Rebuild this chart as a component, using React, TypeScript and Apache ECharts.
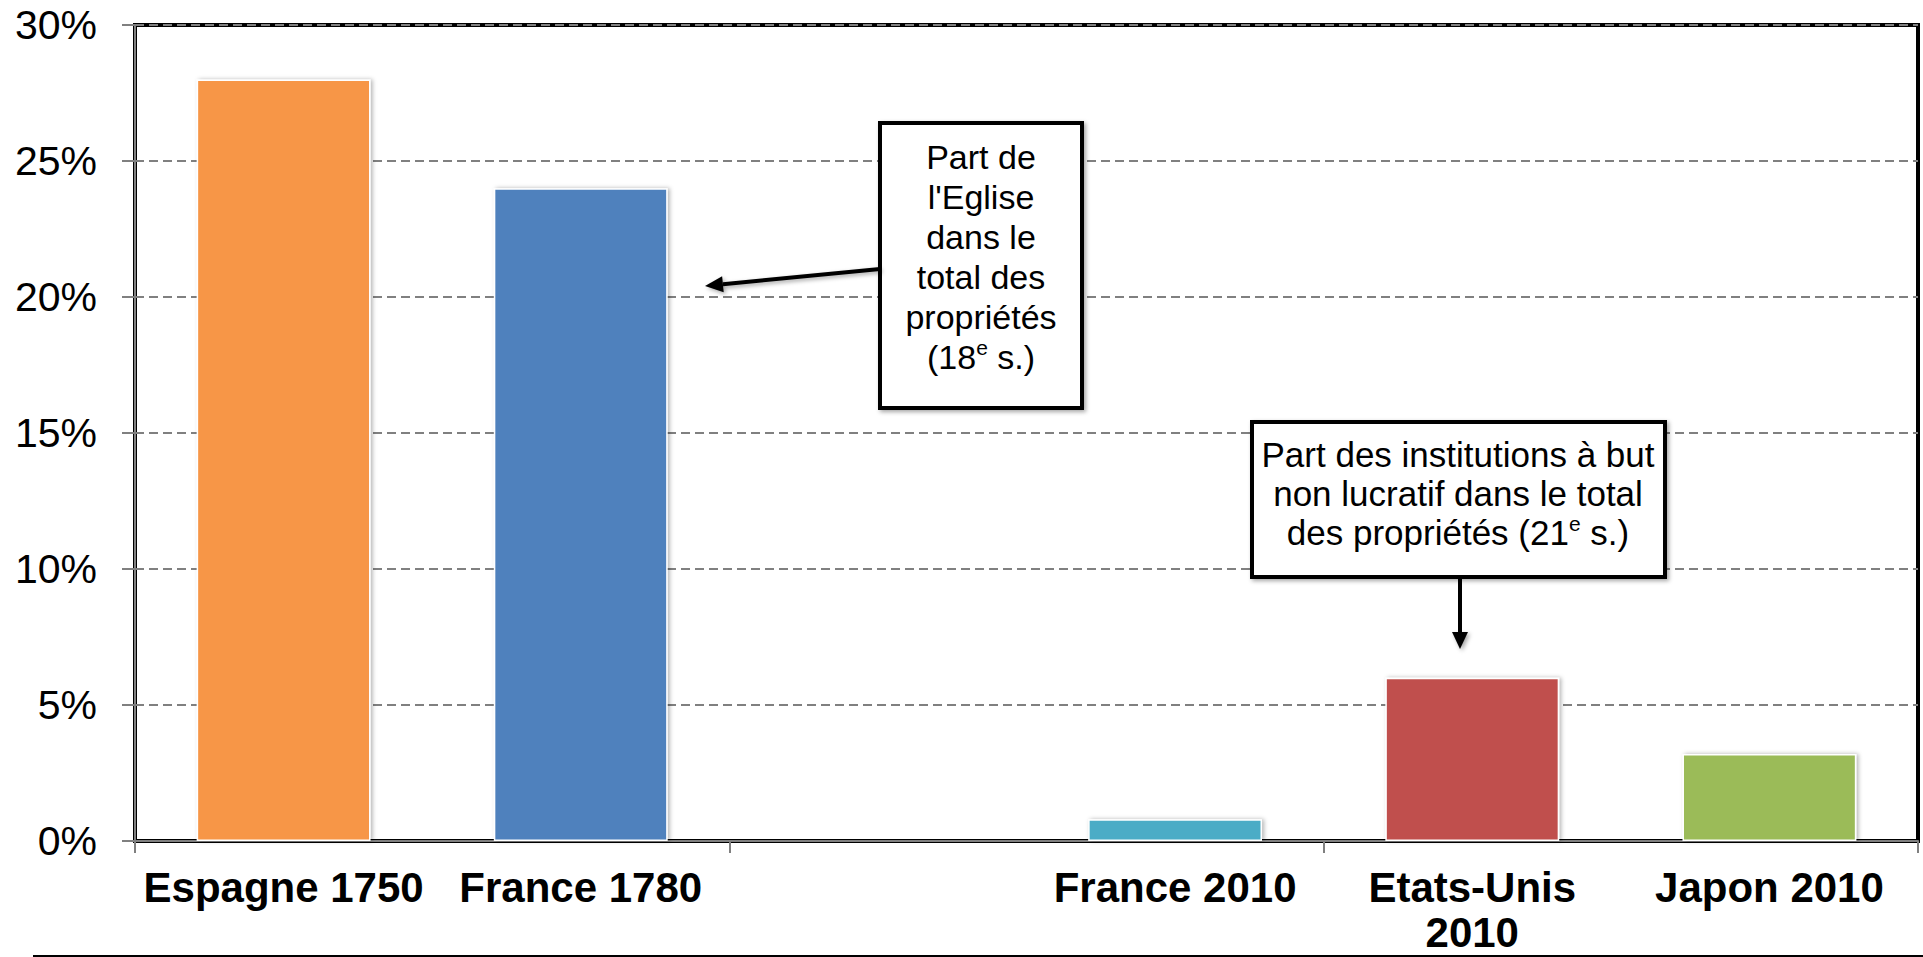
import React, { useEffect, useRef } from "react";
import * as echarts from "echarts";

const categories = ["Espagne 1750", "France 1780", "", "France 2010", "Etats-Unis\n2010", "Japon 2010"];
const tickGroups = ["a", "b", "c"];
const values: (number | null)[] = [28, 24, null, 0.8, 6, 3.2];
const barColors = ["#F79646", "#4F81BD", "#FFFFFF", "#4BACC6", "#C0504D", "#9BBB59"];
const yMin = 0;
const yMax = 30;
const yStep = 5;

const note1 = ["Part de", "l'Eglise", "dans le", "total des", "propriétés", "(18{sup|e} s.)"];
const note2 = ["Part des institutions à but", "non lucratif dans le total", "des propriétés (21{sup|e} s.)"];

const FONT = "'Liberation Sans', Arial, sans-serif";

export default function App() {
  const ref = useRef<HTMLDivElement>(null);
  useEffect(() => {
    if (!ref.current) return;
    const chart = echarts.init(ref.current, null, { renderer: "svg" });
    const shadow = { shadowBlur: 4, shadowColor: "rgba(0,0,0,0.35)", shadowOffsetX: 2, shadowOffsetY: 2 };
    const arrowHead = (tip: [number, number], from: [number, number], len: number, half: number) => {
      const dx = tip[0] - from[0];
      const dy = tip[1] - from[1];
      const l = Math.sqrt(dx * dx + dy * dy);
      const ux = dx / l, uy = dy / l;
      const bx = tip[0] - len * ux, by = tip[1] - len * uy;
      const nx = -uy, ny = ux;
      return {
        base: [bx, by] as [number, number],
        pts: [tip, [bx + half * nx, by + half * ny], [bx - half * nx, by - half * ny]],
      };
    };
    const a1 = arrowHead([705, 286], [880, 269], 18, 8);
    const a2 = arrowHead([1460, 649], [1460, 578], 17, 8);
    const richSup = (size: number) => ({
      sup: { fontSize: size, fontFamily: FONT, fill: "#000", verticalAlign: "top", lineHeight: size + 2 },
    });
    chart.setOption({
      animation: false,
      backgroundColor: "#fff",
      grid: {
        left: 135,
        right: 5,
        top: 25,
        bottom: 116,
        containLabel: false,
        outerBoundsMode: "none",
        show: true,
        borderColor: "#000",
        borderWidth: 4,
        backgroundColor: "transparent",
      },
      xAxis: [
        {
          type: "category",
          data: categories,
          axisLine: { show: true, lineStyle: { color: "#808080", width: 2 } },
          axisTick: { show: false },
          axisLabel: {
            interval: 0,
            margin: 24,
            color: "#000",
            fontSize: 42,
            fontWeight: "bold",
            fontFamily: FONT,
            lineHeight: 45,
          },
          splitLine: { show: false },
        },
        {
          type: "category",
          data: tickGroups,
          position: "bottom",
          axisLine: { show: false },
          axisTick: { show: true, length: 12, lineStyle: { color: "#808080", width: 2 } },
          axisLabel: { show: false },
          splitLine: { show: false },
        },
      ],
      yAxis: {
        type: "value",
        min: yMin,
        max: yMax,
        interval: yStep,
        axisLine: { show: true, lineStyle: { color: "#808080", width: 2 } },
        axisTick: { show: true, length: 13, lineStyle: { color: "#808080", width: 2 } },
        axisLabel: {
          formatter: "{value}%",
          margin: 38,
          color: "#000",
          fontSize: 41,
          fontFamily: FONT,
        },
        splitLine: { show: true, lineStyle: { color: "#808080", width: 2, type: [9, 5] } },
      },
      series: [
        {
          type: "bar",
          xAxisIndex: 0,
          barWidth: "58.5%",
          data: values.map((v, i) =>
            v == null ? "-" : { value: v, itemStyle: { color: barColors[i] } }
          ),
          itemStyle: {
            borderColor: "#fff",
            borderWidth: 1.5,
            shadowBlur: 4,
            shadowColor: "rgba(0,0,0,0.3)",
            shadowOffsetX: 2,
            shadowOffsetY: 0,
          },
        },
      ],
      graphic: [
        {
          type: "line",
          shape: { x1: 33, y1: 956, x2: 1923, y2: 956 },
          style: { stroke: "#000", lineWidth: 2 },
          silent: true,
        },
        // note 1
        {
          type: "rect",
          shape: { x: 880, y: 123, width: 202, height: 285 },
          style: { fill: "#fff", stroke: "#000", lineWidth: 4, ...shadow },
          z: 100,
        },
        {
          type: "text",
          x: 981,
          y: 137,
          z: 101,
          style: {
            text: note1.join("\n"),
            fontSize: 34,
            fontFamily: FONT,
            fill: "#000",
            lineHeight: 40,
            align: "center",
            textAlign: "center",
            verticalAlign: "top",
            textVerticalAlign: "top",
            rich: richSup(21),
          },
        },
        {
          type: "line",
          shape: { x1: 880, y1: 269, x2: a1.base[0], y2: a1.base[1] },
          style: { stroke: "#000", lineWidth: 4, ...shadow },
          z: 100,
        },
        {
          type: "polygon",
          shape: { points: a1.pts },
          style: { fill: "#000", ...shadow },
          z: 100,
        },
        // note 2
        {
          type: "rect",
          shape: { x: 1252, y: 422, width: 413, height: 155 },
          style: { fill: "#fff", stroke: "#000", lineWidth: 4, ...shadow },
          z: 100,
        },
        {
          type: "text",
          x: 1458,
          y: 435,
          z: 101,
          style: {
            text: note2.join("\n"),
            fontSize: 35,
            fontFamily: FONT,
            fill: "#000",
            lineHeight: 39,
            align: "center",
            textAlign: "center",
            verticalAlign: "top",
            textVerticalAlign: "top",
            rich: richSup(21),
          },
        },
        {
          type: "rect",
          shape: { x: 1458, y: 579, width: 4, height: a2.base[1] - 579 },
          style: { fill: "#000" },
          z: 100,
        },
        {
          type: "polygon",
          shape: { points: a2.pts },
          style: { fill: "#000", ...shadow },
          z: 100,
        },
      ],
    });
    return () => chart.dispose();
  }, []);
  return (
    <div
      ref={ref}
      style={{ position: "fixed", left: 0, top: 0, width: 1923, height: 957, background: "#fff" }}
    />
  );
}
